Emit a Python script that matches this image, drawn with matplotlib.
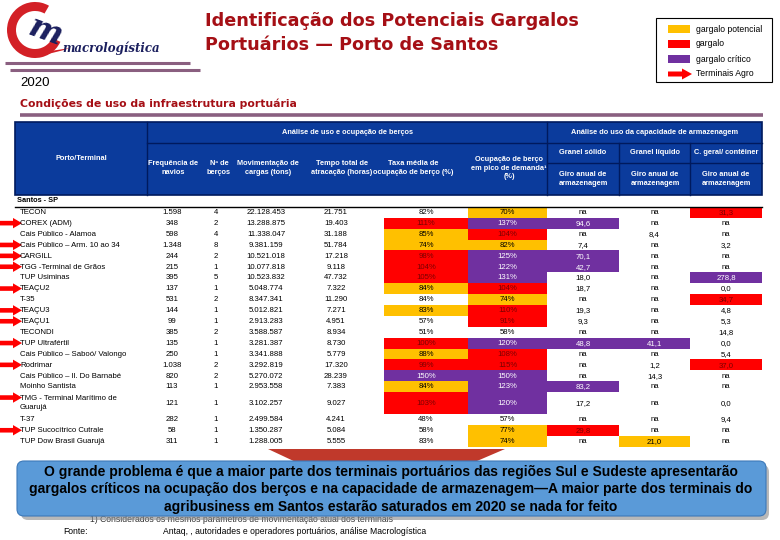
import matplotlib
matplotlib.use("Agg")
import matplotlib.pyplot as plt
from matplotlib.patches import Rectangle, Wedge, FancyBboxPatch, Polygon

# ---------------- data ----------------
terminals = ["TECON", "COREX (ADM)", "Cais Público - Alamoa", "Cais Público – Arm. 10 ao 34",
             "CARGILL", "TGG -Terminal de Grãos", "TUP Usiminas", "TEAÇU2", "T-35", "TEAÇU3",
             "TEAÇU1", "TECONDI", "TUP Ultrafértil", "Cais Público – Saboó/ Valongo", "Rodrimar",
             "Cais Público – Il. Do Barnabé", "Moinho Santista", "TMG - Terminal Marítimo de\nGuarujá",
             "T-37", "TUP Sucocítrico Cutrale", "TUP Dow Brasil Guarujá"]
frequencia = [1598, 348, 598, 1348, 244, 215, 395, 137, 531, 144, 99, 385, 135, 250, 1038, 820, 113, 121, 282, 58, 311]
bercos = [4, 2, 4, 8, 2, 1, 5, 1, 2, 1, 1, 2, 1, 1, 2, 2, 1, 1, 1, 1, 1]
movimentacao = [22128453, 13288875, 11338047, 9381159, 10521018, 10077818, 10523832, 5048774,
                8347341, 5012821, 2913283, 3588587, 3281387, 3341888, 3292819, 5270072, 2953558,
                3102257, 2499584, 1350287, 1288005]
tempo = [21751, 19403, 31188, 51784, 17218, 9118, 47732, 7322, 11290, 7271, 4951, 8934, 8730,
         5779, 17320, 28239, 7383, 9027, 4241, 5084, 5555]
taxa_media = [82, 111, 85, 74, 98, 104, 105, 84, 84, 83, 57, 51, 100, 88, 99, 150, 84, 103, 48, 58, 83]
pico = [70, 137, 104, 82, 125, 122, 131, 104, 74, 110, 91, 58, 120, 108, 115, 150, 123, 120, 57, 77, 74]
granel_solido = [None, 94.6, None, 7.4, 70.1, 42.7, 18.0, 18.7, None, 19.3, 9.3, None, 48.8, None,
                 None, None, 83.2, 17.2, None, 29.8, None]
granel_liquido = [None, None, 8.4, None, None, None, None, None, None, None, None, None, 41.1, None,
                  1.2, 14.3, None, None, None, None, 21.0]
carga_geral = [31.3, None, None, 3.2, None, None, 278.8, 0.0, 34.7, 4.8, 5.3, 14.8, 0.0, 5.4, 37.0,
               None, None, 0.0, 9.4, None, None]
# 0 = none, 1 = gargalo potencial, 2 = gargalo, 3 = gargalo crítico
taxa_status = [0, 2, 1, 1, 2, 2, 2, 1, 0, 1, 0, 0, 2, 1, 2, 3, 1, 2, 0, 0, 0]
pico_status = [1, 3, 2, 1, 3, 3, 3, 2, 1, 2, 2, 0, 3, 2, 2, 3, 3, 3, 0, 1, 1]
gs_status = [0, 3, 0, 0, 3, 3, 0, 0, 0, 0, 0, 0, 3, 0, 0, 0, 3, 0, 0, 2, 0]
gl_status = [0, 0, 0, 0, 0, 0, 0, 0, 0, 0, 0, 0, 3, 0, 0, 0, 0, 0, 0, 0, 1]
cg_status = [2, 0, 0, 0, 0, 0, 3, 0, 2, 0, 0, 0, 0, 0, 2, 0, 0, 0, 0, 0, 0]
agro = [0, 1, 0, 1, 1, 1, 0, 1, 0, 1, 1, 0, 1, 0, 1, 0, 0, 1, 0, 1, 0]
row_span = [1] * 17 + [2] + [1] * 3

legend_labels = ["gargalo potencial", "gargalo", "gargalo crítico", "Terminais Agro"]

# ---------------- style ----------------
C_ORANGE = "#FFC000"
C_RED = "#FF0000"
C_PURPLE = "#7030A0"
STATUS_FILL = {0: None, 1: C_ORANGE, 2: C_RED, 3: C_PURPLE}
STATUS_TEXT = {0: "black", 1: "black", 2: "#7A0000", 3: "white"}
HEAD_BLUE = "#0B3B9C"
HEAD_LINE = "#001A5E"
TITLE_RED = "#A50F15"
MAUVE = "#8A5F80"
BODY_FONT = "Liberation Sans"

fig = plt.figure(figsize=(7.8, 5.4), dpi=100)
ax = fig.add_axes([0, 0, 1, 1])
ax.set_xlim(0, 780)
ax.set_ylim(540, 0)
ax.axis("off")


def fmt_int(v):
    return f"{v:,}".replace(",", ".")


def fmt_dec(v):
    return "na" if v is None else f"{v:.1f}".replace(".", ",")


# ---------------- logo ----------------
ax.add_patch(Wedge((35, 30), 28, 25, 300, width=9, facecolor="#D32026", edgecolor="none"))
ax.add_patch(Polygon([[40, 56], [64, 50], [70, 48], [44, 52]], closed=True, facecolor="#D32026", edgecolor="none"))
ax.text(45, 32, "m", fontsize=23, fontweight="bold", style="italic", family="DejaVu Serif",
        color="#1B1F5E", ha="center", va="center", rotation=-20)
ax.text(62, 48, "macrologística", fontsize=8.5, fontweight="bold", style="italic",
        family="DejaVu Serif", color="#1B1F5E", ha="left", va="center")
ax.plot([5, 190], [63, 63], color=MAUVE, lw=2.2, solid_capstyle="butt")
ax.plot([10, 200], [70, 70], color=MAUVE, lw=2.2, solid_capstyle="butt")

# ---------------- titles ----------------
ax.text(205, 12, "Identificação dos Potenciais Gargalos\nPortuários — Porto de Santos",
        fontsize=12.7, fontweight="bold", color=TITLE_RED, ha="left", va="top",
        family="DejaVu Sans", linespacing=1.4)
ax.text(20, 83, "2020", fontsize=9.5, family=BODY_FONT, color="black", ha="left", va="center")
ax.text(20, 104, "Condições de uso da infraestrutura portuária", fontsize=7.8, fontweight="bold",
        color=TITLE_RED, ha="left", va="center", family="DejaVu Sans")
ax.plot([20, 763], [115, 115], color=MAUVE, lw=2.6, solid_capstyle="butt")

# ---------------- legend ----------------
ax.add_patch(Rectangle((656, 18), 116, 64, facecolor="white", edgecolor="black", lw=0.8))
leg_fills = [C_ORANGE, C_RED, C_PURPLE]
for i, lab in enumerate(legend_labels):
    yc = 29 + i * 15
    if i < 3:
        ax.add_patch(Rectangle((668, yc - 4), 22, 8, facecolor=leg_fills[i], edgecolor="none"))
    else:
        ax.add_patch(Polygon([[668, yc - 2.5], [682, yc - 2.5], [682, yc - 5.5], [692, yc],
                              [682, yc + 5.5], [682, yc + 2.5], [668, yc + 2.5]],
                             closed=True, facecolor=C_RED, edgecolor="none"))
    ax.text(696, yc, lab, fontsize=6.2, family=BODY_FONT, ha="left", va="center")

# ---------------- table header ----------------
hx0, hx1 = 15, 762
hy0, hy1, hy2, hy3 = 122, 143, 163, 195
ax.add_patch(Rectangle((hx0, hy0), hx1 - hx0, hy3 - hy0, facecolor=HEAD_BLUE, edgecolor=HEAD_LINE, lw=1.2))
for x0, y0, x1, y1 in [(147, hy0, 147, hy3), (547, hy0, 547, hy3), (147, hy1, hx1, hy1),
                       (547, hy2, hx1, hy2), (619, hy1, 619, hy3), (690, hy1, 690, hy3)]:
    ax.plot([x0, x1], [y0, y1], color=HEAD_LINE, lw=1.0)

hkw = dict(fontsize=5.3, fontweight="bold", color="white", family=BODY_FONT, ha="center",
           va="center", linespacing=1.25)
ax.text(347, 133, "Análise de uso e ocupação de berços", **hkw)
ax.text(655, 133, "Análise do uso da capacidade de armazenagem", **hkw)
ax.text(81, 158, "Porto/Terminal", **hkw)
head_cols = [(173, "Frequência de\nnavios"), (219, "Nº de\nberços"), (268, "Movimentação de\ncargas (tons)"),
             (342, "Tempo total de\natracação (horas)"), (413, "Taxa média de\nocupação de berço (%)"),
             (509, "Ocupação de berço\nem pico de demanda¹\n(%)")]
for x, t in head_cols:
    ax.text(x, 168, t, **hkw)
for x, t in [(583, "Granel sólido"), (655, "Granel líquido"), (726, "C. geral/ contêiner")]:
    ax.text(x, 153, t, **hkw)
    ax.text(x, 179, "Giro anual de\narmazenagem", **hkw)

ax.text(17, 200, "Santos - SP", fontsize=5.3, fontweight="bold", family=BODY_FONT, ha="left", va="center")
ax.plot([15, 762], [207, 207], color="black", lw=1.0)

# ---------------- table body ----------------
row_h = 10.9
y_start = 206.8
bkw = dict(fontsize=5.6, family=BODY_FONT, va="center")
num_x = [172, 216, 266, 336]
stat_cols = [(384, 468, taxa_status), (468, 547, pico_status), (547, 619, gs_status),
             (619, 690, gl_status), (690, 762, cg_status)]
cum = 0
for i, name in enumerate(terminals):
    top = y_start + cum * row_h
    h = row_span[i] * row_h
    yc = top + h / 2
    cum += row_span[i]
    texts = [f"{taxa_media[i]}%", f"{pico[i]}%", fmt_dec(granel_solido[i]),
             fmt_dec(granel_liquido[i]), fmt_dec(carga_geral[i])]
    for (x0, x1, st), txt in zip(stat_cols, texts):
        s = st[i]
        if STATUS_FILL[s]:
            ax.add_patch(Rectangle((x0, top), x1 - x0, h, facecolor=STATUS_FILL[s], edgecolor="none"))
        ax.text((x0 + x1) / 2, yc + 0.3, txt, color=STATUS_TEXT[s], ha="center", **bkw)
    ax.text(20, yc + 0.3, name, ha="left", linespacing=1.45, **bkw)
    for x, val in zip(num_x, [fmt_int(frequencia[i]), str(bercos[i]), fmt_int(movimentacao[i]),
                              fmt_int(tempo[i])]):
        ax.text(x, yc + 0.3, val, ha="center", **bkw)
    if agro[i]:
        ay = top + row_h / 2
        ax.add_patch(Polygon([[0, ay - 2.3], [13, ay - 2.3], [13, ay - 5.2], [22, ay],
                              [13, ay + 5.2], [13, ay + 2.3], [0, ay + 2.3]],
                             closed=True, facecolor=C_RED, edgecolor="none"))

# ---------------- footnotes ----------------
ax.text(90, 520, "1) Considerados os mesmos parâmetros de movimentação atual dos terminais",
        fontsize=6.2, family=BODY_FONT, ha="left", va="center", color="#333333")
ax.text(63, 531, "Fonte:", fontsize=6.2, family=BODY_FONT, ha="left", va="center")
ax.text(163, 531, "Antaq, , autoridades e operadores portuários, análise Macrologística",
        fontsize=6.2, family=BODY_FONT, ha="left", va="center")

# ---------------- callout ----------------
ax.add_patch(Polygon([[268, 449], [505, 449], [470, 464], [300, 464]], closed=True,
                     facecolor="#C0392B", edgecolor="none", zorder=3))
ax.add_patch(FancyBboxPatch((21, 465), 748, 55, boxstyle="round,pad=0,rounding_size=7",
                            facecolor="#8A8A8A", edgecolor="none", alpha=0.6, zorder=3))
ax.add_patch(FancyBboxPatch((17, 461), 749, 55, boxstyle="round,pad=0,rounding_size=7",
                            facecolor="#5A9AD8", edgecolor="#3C78B8", lw=0.8, zorder=4))
ax.text(391, 489.5, "O grande problema é que a maior parte dos terminais portuários das regiões Sul e Sudeste apresentarão\n"
                    "gargalos críticos na ocupação dos berços e na capacidade de armazenagem—A maior parte dos terminais do\n"
                    "agribusiness em Santos estarão saturados em 2020 se nada for feito",
        fontsize=10.0, fontweight="bold", family=BODY_FONT, ha="center", va="center",
        linespacing=1.3, zorder=5)

fig.savefig("out.png", dpi=100)
